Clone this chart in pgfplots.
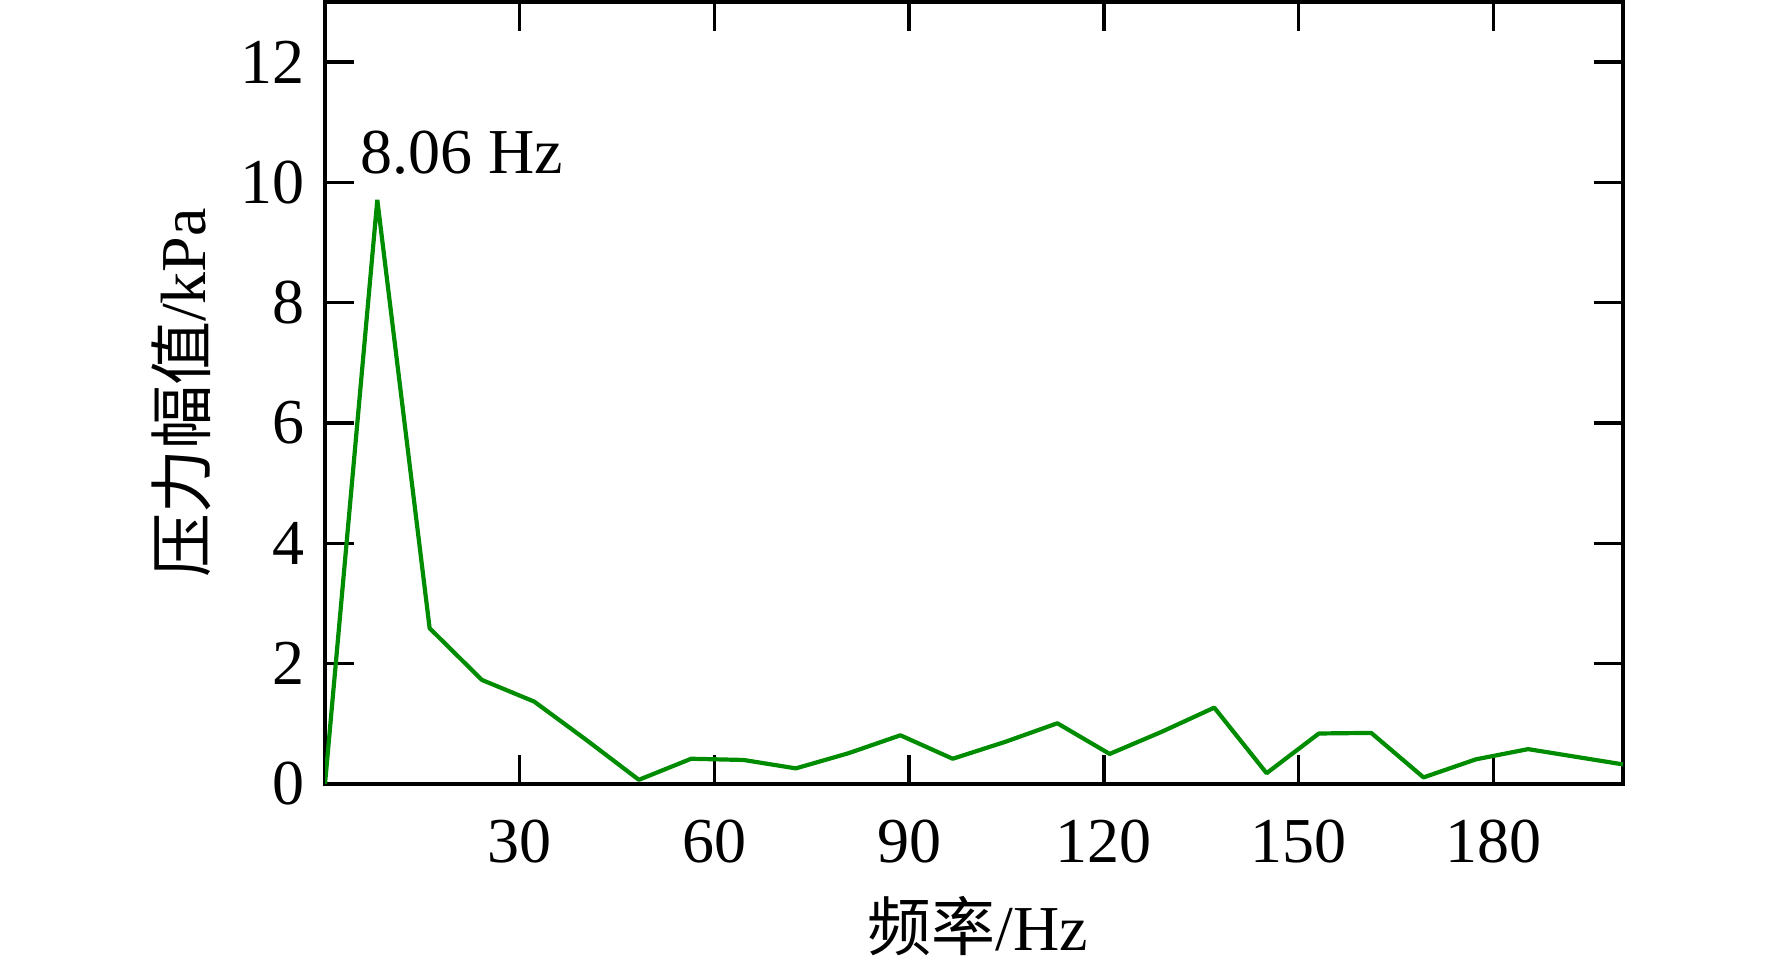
\documentclass[border=0pt]{standalone}
\usepackage{fontspec}
\setmainfont{Liberation Serif}
\newfontfamily\cjk{Noto Sans CJK SC}
\usepackage{pgfplots}
\pgfplotsset{compat=1.18}
\definecolor{curve}{RGB}{0,140,0}

\begin{document}
\begin{tikzpicture}[font=\fontsize{16}{19}\selectfont]
\begin{axis}[
  name=ax, scale only axis, width=324.5pt, height=195.5pt,
  xmin=0, xmax=200, ymin=0, ymax=13,
  xtick={30,60,...,180}, ytick={0,2,...,12},
  tick align=inside, major tick length=7.2pt,
  tick style={line width=0.85pt, black},
  axis line style={line width=0.85pt},
  /pgf/number format/assume math mode=true,
  xticklabel style={yshift=-5.5pt},
  yticklabel style={xshift=-1.5pt},
  xlabel={{\cjk 频率}/Hz}, ylabel={{\cjk 压力幅值}/kPa},
  every axis x label/.style={at={(rel axis cs:0.5,0)}, yshift=-35.5pt, xshift=1pt, anchor=center},
  every axis y label/.style={at={(rel axis cs:0,0.5)}, xshift=-36pt, rotate=90, anchor=center},
]
\addplot[color=curve, line width=1.05pt, line join=bevel] coordinates {
  (0.00, 0.00)
  (8.06, 9.71)
  (16.12, 2.59)
  (24.18, 1.73)
  (32.24, 1.37)
  (40.30, 0.73)
  (48.36, 0.07)
  (56.42, 0.42)
  (64.48, 0.40)
  (72.54, 0.26)
  (80.60, 0.51)
  (88.66, 0.81)
  (96.72, 0.42)
  (104.78, 0.70)
  (112.84, 1.01)
  (120.90, 0.50)
  (128.96, 0.87)
  (137.02, 1.27)
  (145.08, 0.18)
  (153.14, 0.84)
  (161.20, 0.85)
  (169.26, 0.11)
  (177.32, 0.41)
  (185.38, 0.58)
  (193.44, 0.44)
  (201.50, 0.30)
};
\node[anchor=base west, inner sep=0pt] at (axis cs:5.3,10.15) {8.06 Hz};
\end{axis}
\path ([shift={(-81.25pt,-45.5pt)}]ax.south west) rectangle ([shift={(37.25pt,0.5pt)}]ax.north east);
\end{tikzpicture}
\end{document}
